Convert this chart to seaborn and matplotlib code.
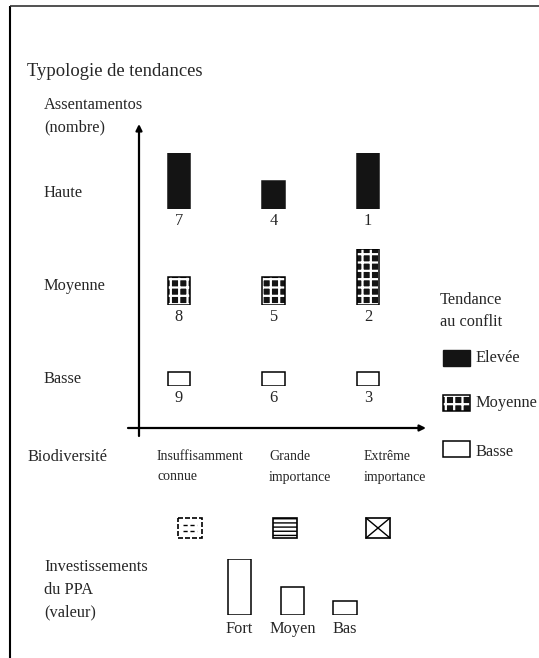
import numpy as np
import pandas as pd
import matplotlib
matplotlib.use("Agg")
import matplotlib.pyplot as plt
import seaborn as sns

# ---------------- data ----------------
row_levels = ["Haute", "Moyenne", "Basse"]                 # Assentamentos (nombre)
conflict_levels = ["Elevée", "Moyenne", "Basse"]            # Tendance au conflit (one per row)
biodiv_levels = ["Insuffisamment\nconnue", "Grande\nimportance", "Extrême\nimportance"]
type_numbers = [[7, 4, 1], [8, 5, 2], [9, 6, 3]]
type_invest = [["Fort", "Moyen", "Fort"],
               ["Moyen", "Moyen", "Fort"],
               ["Bas", "Bas", "Bas"]]
invest_levels = ["Fort", "Moyen", "Bas"]
invest_values = [4, 2, 1]
invest_map = dict(zip(invest_levels, invest_values))

# ---------------- layout (pixels) ----------------
W, H = 539, 658
plot_x0, plot_x1 = 131.5, 415.5
row_base = [209, 305, 386]
unit_px = 14
bar_w = 0.235
label_off = 12
FS = 11.8
SERIF = "Liberation Serif"

sns.set_theme(style="white")
plt.rcParams["font.family"] = [SERIF, "DejaVu Serif"]
plt.rcParams["hatch.linewidth"] = 1.0

fig = plt.figure(figsize=(W / 100, H / 100), dpi=100)
fig.patch.set_facecolor("white")

ax0 = fig.add_axes([0, 0, 1, 1])
ax0.set_xlim(0, W)
ax0.set_ylim(H, 0)
ax0.axis("off")


def px_axes(x0, y0, x1, y1):
    a = fig.add_axes([x0 / W, 1 - y1 / H, (x1 - x0) / W, (y1 - y0) / H])
    a.patch.set_visible(False)
    return a


def set_hlw(p, lw):
    if hasattr(p, "set_hatch_linewidth"):
        p.set_hatch_linewidth(lw)


# frame
ax0.plot([10, 10], [6, H], color="black", lw=1.5, solid_capstyle="butt")
ax0.plot([10, W], [6, 6], color="#333333", lw=1.2, solid_capstyle="butt")

# axes arrows
ax0.annotate("", xy=(139, 124), xytext=(139, 436),
             arrowprops=dict(arrowstyle="-|>", lw=1.6, color="black",
                             mutation_scale=9, shrinkA=0, shrinkB=0))
ax0.annotate("", xy=(426, 428), xytext=(128, 428),
             arrowprops=dict(arrowstyle="-|>", lw=1.6, color="black",
                             mutation_scale=9, shrinkA=0, shrinkB=0))

# texts
ax0.text(27, 72, "Typologie de tendances", fontsize=13.4, va="center", ha="left")
ax0.text(44, 105, "Assentamentos", fontsize=FS, va="center")
ax0.text(44, 127, "(nombre)", fontsize=FS, va="center")
row_label_y = [193, 286, 379]
for lab, y in zip(row_levels, row_label_y):
    ax0.text(44, y, lab, fontsize=FS, va="center")

ax0.text(28, 457, "Biodiversité", fontsize=FS, va="center")
bio_text_x = [157, 269, 364]
for lab, x in zip(biodiv_levels, bio_text_x):
    l1, l2 = lab.split("\n")
    ax0.text(x, 457, l1, fontsize=10, va="center")
    ax0.text(x, 477, l2, fontsize=10, va="center")

ax0.text(44, 567, "Investissements", fontsize=FS, va="center")
ax0.text(44, 590, "du PPA", fontsize=FS, va="center")
ax0.text(44, 612, "(valeur)", fontsize=FS, va="center")

ax0.text(440, 300, "Tendance", fontsize=FS, va="center")
ax0.text(440, 322, "au conflit", fontsize=FS, va="center")


def style_bars(patches, level, axis, xs, hs, width, bottoms=None):
    if level == "Elevée":
        for p in patches:
            p.set_facecolor("#141414")
            p.set_edgecolor("#141414")
    elif level == "Moyenne":
        for p in patches:
            p.set_facecolor("#141414")
            p.set_edgecolor("white")
            p.set_linewidth(0)
            p.set_hatch("++")
            set_hlw(p, 1.6)
        axis.bar(xs, hs, width=width, bottom=bottoms, fill=False,
                 edgecolor="black", linewidth=1.1)
    else:
        for p in patches:
            p.set_facecolor("white")
            p.set_edgecolor("black")
            p.set_linewidth(1.1)


# main rows (seaborn barplots)
for r, lvl in enumerate(conflict_levels):
    top = row_base[r] - 4 * unit_px
    ax = px_axes(plot_x0, top, plot_x1, row_base[r])
    vals = [invest_map[v] for v in type_invest[r]]
    df = pd.DataFrame({"biodiv": biodiv_levels, "valeur": vals})
    with plt.rc_context({"hatch.linewidth": 1.6 if lvl == "Moyenne" else 1.0}):
        sns.barplot(data=df, x="biodiv", y="valeur", ax=ax, color="black",
                    width=bar_w, saturation=1, linewidth=1.1)
        style_bars(list(ax.patches), lvl, ax, np.arange(3), vals, bar_w)
    ax.set_xlim(-0.5, 2.5)
    ax.set_ylim(0, 4)
    ax.axis("off")
    for i, n in enumerate(type_numbers[r]):
        ax.annotate(str(n), xy=(i, 0), xytext=(0, -label_off),
                    textcoords="offset pixels", ha="center", va="center",
                    fontsize=FS, annotation_clip=False)

# legend "Tendance au conflit"
leg_x, leg_w = 456.5, 27
leg_top = [350, 395, 441]
leg_text_y = [358, 403, 452]
for lvl, t, ty in zip(conflict_levels, leg_top, leg_text_y):
    with plt.rc_context({"hatch.linewidth": 1.6 if lvl == "Moyenne" else 1.0}):
        b = ax0.bar([leg_x], [16], width=leg_w, bottom=[t], color="black")
        style_bars(list(b.patches), lvl, ax0, [leg_x], [16], leg_w, [t])
    ax0.text(476, ty, lvl, fontsize=FS, va="center")

# biodiversity icons
icon_x = [190, 285, 378]
icon_top, icon_h, icon_w = 518, 20, 24
# Insuffisamment connue: dashed box with dashes inside
ax0.bar([icon_x[0]], [icon_h], width=icon_w, bottom=[icon_top],
        facecolor="white", edgecolor="black", linewidth=1.2,
        linestyle=(0, (3, 1.2)))
x0, x1 = icon_x[0] - icon_w / 2, icon_x[0] + icon_w / 2
for dy in (7, 13):
    ax0.plot([x0 + 5, x1 - 5], [icon_top + dy, icon_top + dy], color="black",
             lw=1.0, linestyle=(0, (3, 2)))
# Grande importance: horizontal lines
ax0.bar([icon_x[1]], [icon_h], width=icon_w, bottom=[icon_top],
        facecolor="white", edgecolor="black", linewidth=1.2, hatch="----")
# Extrême importance: box with X
ax0.bar([icon_x[2]], [icon_h], width=icon_w, bottom=[icon_top],
        facecolor="white", edgecolor="black", linewidth=1.2)
x0, x1 = icon_x[2] - icon_w / 2, icon_x[2] + icon_w / 2
ax0.plot([x0, x1], [icon_top, icon_top + icon_h], color="black", lw=1.0)
ax0.plot([x0, x1], [icon_top + icon_h, icon_top], color="black", lw=1.0)

# investment legend (seaborn barplot)
axi = px_axes(213, 615 - 4 * unit_px, 371.5, 615)
sns.barplot(x=invest_levels, y=invest_values, ax=axi, color="white",
            edgecolor="black", linewidth=1.1, width=0.44, saturation=1)
axi.set_xlim(-0.5, 2.5)
axi.set_ylim(0, 4)
sns.despine(ax=axi, left=True, bottom=True)
axi.set_yticks([])
axi.set_xlabel("")
axi.set_ylabel("")
axi.tick_params(axis="x", length=0, pad=4.5, labelsize=FS)

fig.savefig("out.png", dpi=100, facecolor="white")
